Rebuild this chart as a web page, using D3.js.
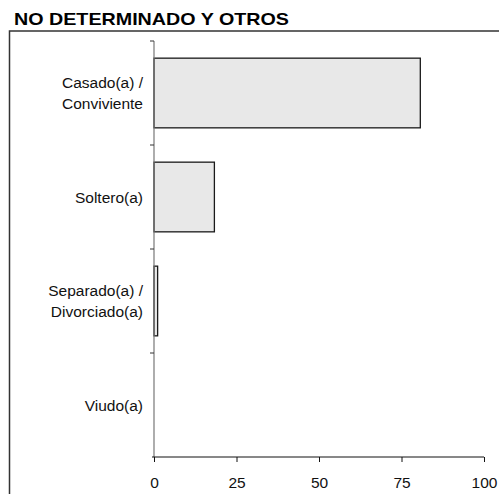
<!DOCTYPE html>
<html>
<head>
<meta charset="utf-8">
<script src="https://cdn.jsdelivr.net/npm/d3@7"></script>
<style>
  html, body { margin: 0; padding: 0; background: #fff; }
  svg { display: block; font-family: "Liberation Sans", Arial, sans-serif; }
</style>
</head>
<body>
<svg id="chart" width="499" height="494"></svg>
<script>
const title = "NO DETERMINADO Y OTROS";
const categories = [["Casado(a) /", "Conviviente"], ["Soltero(a)"], ["Separado(a) /", "Divorciado(a)"], ["Viudo(a)"]];
const values = [80.7, 18.3, 1.1, 0];
const xTicks = [0, 25, 50, 75, 100];

const svg = d3.select("#chart");
const W = 499, H = 494;

// frame
svg.append("rect")
  .attr("x", 9.5).attr("y", 31).attr("width", 520).attr("height", 500)
  .attr("fill", "none").attr("stroke", "#333").attr("stroke-width", 1.5);

svg.append("text")
  .attr("x", 14).attr("y", 25)
  .attr("font-size", 17).attr("font-weight", "bold").attr("fill", "#000")
  .attr("textLength", 275).attr("lengthAdjust", "spacingAndGlyphs")
  .text(title);

const x = d3.scaleLinear().domain([0, 100]).range([154, 484]);
const idx = categories.map((d, i) => i);
const y = d3.scaleBand().domain(idx).range([41, 457]).paddingInner(0.33).paddingOuter(0.165);
const step = y.step();

// bars
svg.append("g").selectAll("rect").data(values).join("rect")
  .attr("x", x(0))
  .attr("y", (d, i) => y(i))
  .attr("width", d => Math.max(0, x(d) - x(0)))
  .attr("height", y.bandwidth())
  .attr("fill", "#e8e8e8")
  .attr("stroke", d => d > 0 ? "#1a1a1a" : "none")
  .attr("stroke-width", 1.3);

// y axis line
svg.append("line")
  .attr("x1", x(0)).attr("x2", x(0)).attr("y1", 41).attr("y2", 457)
  .attr("stroke", "#777").attr("stroke-width", 1.2);

// y ticks at band boundaries
const bounds = idx.map(i => y(i) - y.paddingInner() * step / 2);
svg.append("g").selectAll("line").data(bounds).join("line")
  .attr("x1", x(0) - 4).attr("x2", x(0)).attr("y1", d => d).attr("y2", d => d)
  .attr("stroke", "#333").attr("stroke-width", 1);

// category labels
const lab = svg.append("g").selectAll("text").data(categories).join("text")
  .attr("text-anchor", "end")
  .attr("font-size", 15.5).attr("fill", "#111");
lab.each(function(lines, i) {
  const cy = y(i) + y.bandwidth() / 2 + step * 0.0;
  const c = bounds[i] + step / 2;
  const n = lines.length;
  d3.select(this).selectAll("tspan").data(lines).join("tspan")
    .attr("x", 143)
    .attr("y", (l, k) => c + (k - (n - 1) / 2) * 21 + 5.5)
    .text(l => l);
});

// x axis
const xAxis = d3.axisBottom(x).tickValues(xTicks).tickSize(5).tickPadding(15).tickFormat(d3.format("d"));
const gx = svg.append("g").attr("transform", "translate(0,457)").call(xAxis);
gx.select(".domain").attr("stroke", "#111").attr("d", `M${x(0)-2},0H${x(100)}`);
gx.selectAll(".tick line").attr("stroke", "#111");
gx.selectAll(".tick text").attr("font-size", 15.5).attr("fill", "#111")
  .attr("font-family", "'Liberation Sans', Arial, sans-serif");
</script>
</body>
</html>
